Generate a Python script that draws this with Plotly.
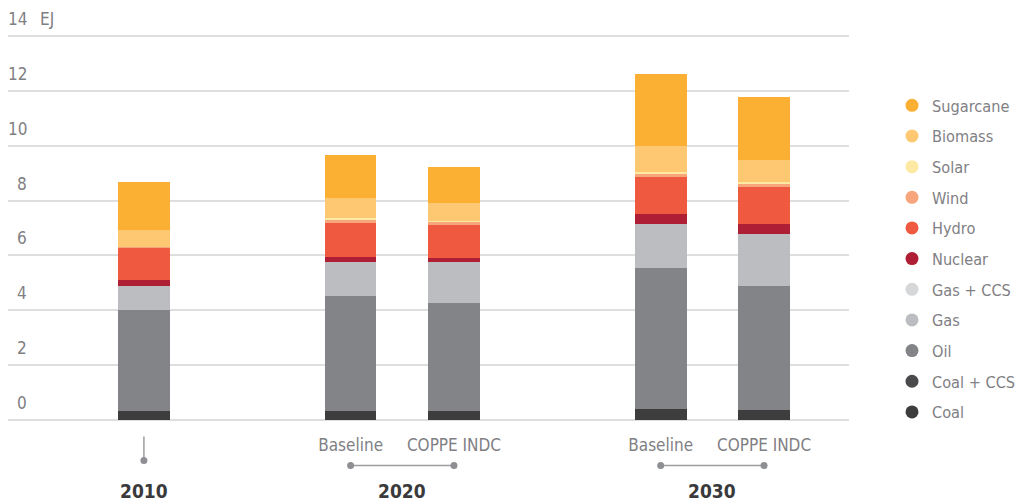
import plotly.graph_objects as go

# ---------------- data ----------------
years = ["2010", "2020", "2030"]
scenarios = [[""], ["Baseline", "COPPE INDC"], ["Baseline", "COPPE INDC"]]

# values per bar, in bar order: 2010, 2020 Baseline, 2020 COPPE INDC, 2030 Baseline, 2030 COPPE INDC  (EJ)
coal      = [0.33, 0.33, 0.33, 0.40, 0.36]
coal_ccs  = [0.00, 0.00, 0.00, 0.00, 0.00]
oil       = [3.68, 4.19, 3.94, 5.14, 4.53]
gas       = [0.88, 1.25, 1.50, 1.61, 1.89]
gas_ccs   = [0.00, 0.00, 0.00, 0.00, 0.00]
nuclear   = [0.21, 0.18, 0.15, 0.36, 0.37]
hydro     = [1.18, 1.23, 1.19, 1.35, 1.34]
wind      = [0.03, 0.11, 0.11, 0.13, 0.15]
solar     = [0.00, 0.09, 0.03, 0.05, 0.04]
biomass   = [0.63, 0.71, 0.67, 0.95, 0.80]
sugarcane = [1.75, 1.57, 1.30, 2.62, 2.30]

series_names = ["Coal", "Coal + CCS", "Oil", "Gas", "Gas + CCS", "Nuclear",
                "Hydro", "Wind", "Solar", "Biomass", "Sugarcane"]
series_values = [coal, coal_ccs, oil, gas, gas_ccs, nuclear,
                 hydro, wind, solar, biomass, sugarcane]
series_colors = ["#3d3d3d", "#4a4a4c", "#838487", "#bcbdc0", "#d6d7d9", "#ae1f35",
                 "#ef5940", "#f6a67a", "#fde9a3", "#fec872", "#fbb034"]

y_ticks = [0, 2, 4, 6, 8, 10, 12, 14]
y_unit = "EJ"

# ---------------- positions (slot per bar, one empty slot between years) ----------------
positions, labels, group_pos = [], [], []
p = 0
for g, scs in enumerate(scenarios):
    gp = []
    for s in scs:
        positions.append(p)
        labels.append(s)
        gp.append(p)
        p += 1
    group_pos.append(gp)
    p += 1

FONT = "Liberation Sans Narrow, DejaVu Sans Condensed, Arial Narrow, sans-serif"
GRAY_TXT = "#7f8084"

fig = go.Figure()
for name, vals, col in zip(series_names, series_values, series_colors):
    fig.add_trace(go.Bar(x=positions, y=vals, name=name, marker=dict(color=col, line=dict(width=0)),
                         width=0.5, showlegend=False))
# legend entries as circles (top to bottom: Sugarcane ... Coal)
for name, col in zip(series_names[::-1], series_colors[::-1]):
    fig.add_trace(go.Scatter(x=[None], y=[None], mode="markers", name=name, legendgroup=name,
                             marker=dict(color=col, size=13, symbol="circle")))

# page is offset by the default 8px body margin
OFF = 8
W_FIG, H_FIG = 1015, 496
PLOT_L, PLOT_R, PLOT_T, PLOT_B = 8, 849, 34.6, 421.4   # page pixels
L = PLOT_L - OFF
R = W_FIG - (PLOT_R - OFF)
T = PLOT_T - OFF
B = H_FIG - (PLOT_B - OFF)
plot_w = PLOT_R - PLOT_L
plot_h = PLOT_B - PLOT_T

def py(pix):  # page pixel y -> paper y
    return (PLOT_B - pix) / plot_h

def px(pix):  # page pixel x -> paper x
    return (pix - PLOT_L) / plot_w

# connectors and dots below axis
shapes = []
dot_col = "#8e8f92"
for gp in group_pos:
    if len(gp) == 1:
        shapes.append(dict(type="line", xref="x", yref="paper", x0=gp[0], x1=gp[0],
                           y0=py(437), y1=py(461), line=dict(color="#9c9da0", width=1.5)))
        ys = py(461)
    else:
        shapes.append(dict(type="line", xref="x", yref="paper", x0=gp[0], x1=gp[-1],
                           y0=py(466), y1=py(466), line=dict(color="#9c9da0", width=1.5)))
        ys = py(466)
    for xp in gp:
        shapes.append(dict(type="circle", xref="x", yref="paper", xsizemode="pixel", ysizemode="pixel",
                           xanchor=xp, yanchor=ys, x0=-3.5, x1=3.5, y0=-3.5, y1=3.5,
                           fillcolor=dot_col, line=dict(width=0)))

annotations = []
for yr, gp in zip(years, group_pos):
    annotations.append(dict(text=f"<b>{yr}</b>", x=sum(gp) / len(gp), xref="x", y=py(492), yref="paper",
                            showarrow=False, xanchor="center", yanchor="middle",
                            font=dict(family=FONT, size=19, color="#3a3a3c")))
# y tick labels, sitting above their gridlines
for v in y_ticks:
    annotations.append(dict(text=str(v), x=px(29), xref="paper", y=v, yref="y", yshift=17,
                            showarrow=False, xanchor="right", yanchor="middle",
                            font=dict(family=FONT, size=17, color=GRAY_TXT)))
annotations.append(dict(text=y_unit, x=px(38), xref="paper", y=y_ticks[-1], yref="y",
                        yshift=17, showarrow=False, xanchor="left", yanchor="middle",
                        font=dict(family=FONT, size=17, color=GRAY_TXT)))

fig.update_layout(
    width=W_FIG, height=H_FIG,
    margin=dict(l=L, r=R, t=T, b=B, pad=0, autoexpand=False),
    barmode="stack",
    plot_bgcolor="white", paper_bgcolor="white",
    font=dict(family=FONT, size=17, color=GRAY_TXT),
    xaxis=dict(range=[-1.315, 6.822], tickvals=positions, ticktext=labels, showgrid=False,
               zeroline=False, showline=False, ticks="", ticklabelstandoff=12, automargin=False,
               tickfont=dict(family=FONT, size=17, color=GRAY_TXT)),
    yaxis=dict(range=[-0.05, 14.05], tickvals=y_ticks, showticklabels=False, showgrid=True,
               gridcolor="#dedede", gridwidth=1.6, zeroline=False, showline=False, ticks="",
               automargin=False),
    legend=dict(x=px(892), xanchor="left", y=py(88), yanchor="top",
                traceorder="grouped", tracegroupgap=6.6, itemsizing="trace",
                font=dict(family=FONT, size=16.2, color=GRAY_TXT), bgcolor="rgba(0,0,0,0)"),
    shapes=shapes,
    annotations=annotations,
    bargap=0,
)

fig.write_html("out.html")
